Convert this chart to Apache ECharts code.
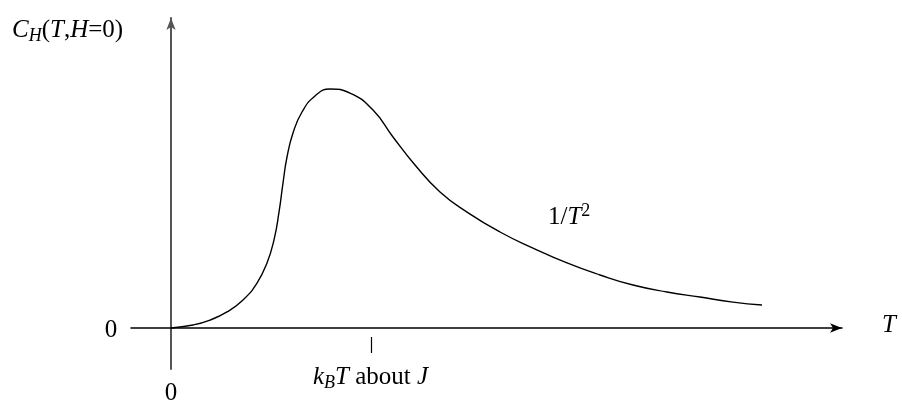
<!doctype html>
<html>
<head>
    <meta http-equiv="Content-Type" content="text/html; charset=utf-8">
    <title>specific heat</title>
    <script src="https://cdn.jsdelivr.net/npm/echarts@6/dist/echarts.min.js"></script>
    <style>
        html, body { margin: 0; padding: 0; background: #fff; }
        #main { width: 902px; height: 400px; }
    </style>
</head>
<body>
<div id="main"></div>
<script type="text/javascript">

    // temperature (units of J/k_B) and specific heat
    var temps = [0, 0.11, 0.195, 0.28, 0.36, 0.43, 0.48, 0.515, 0.54, 0.56, 0.58, 0.61, 0.655, 0.72, 0.795, 0.895, 1.01, 1.11, 1.22, 1.345, 1.48, 1.645, 1.81, 1.98, 2.145, 2.31, 2.48, 2.645, 2.81, 2.955];
    var heat  = [0, 0.0125, 0.033, 0.067, 0.1167, 0.1875, 0.271, 0.367, 0.483, 0.604, 0.7125, 0.8125, 0.9, 0.967, 0.996, 0.979, 0.908, 0.796, 0.679, 0.567, 0.483, 0.4, 0.333, 0.271, 0.221, 0.179, 0.15, 0.129, 0.108, 0.096];
    // the little mark under the axis at k_B T ~ J
    var markT = 1;
    var markSpan = [-0.0375, -0.104];

    var serif = 'Liberation Serif';
    var rich = {
        n:   { fontFamily: serif, fontSize: 25, color: '#000' },
        i:   { fontFamily: serif, fontSize: 25, fontStyle: 'italic', color: '#000' },
        sub: { fontFamily: serif, fontSize: 18, fontStyle: 'italic', color: '#000', padding: [12, 0, 0, 0] },
        sup: { fontFamily: serif, fontSize: 18, color: '#000', padding: [0, 0, 12, 0] }
    };

    function label(x, y, txt, align) {
        return {
            type: 'text', x: x, y: y,
            style: { text: txt, rich: rich, align: align || 'left', verticalAlign: 'middle' }
        };
    }

    var curve = [];
    for (var k = 0; k < temps.length; k++) {
        curve.push([temps[k], heat[k]]);
    }

    var myChart = echarts.init(document.getElementById('main'));
    var option = {
        animation: false,
        backgroundColor: '#fff',
        grid: { left: 131, right: 60, top: 18, bottom: 31 },
        xAxis: {
            type: 'value',
            min: -0.2,
            max: 3.355,
            axisLine: {
                onZero: true,
                symbol: ['none', 'arrow'],
                symbolSize: [7, 12],
                lineStyle: { color: '#000', width: 1.5 }
            },
            axisTick: { show: false },
            axisLabel: { show: false },
            splitLine: { show: false }
        },
        yAxis: {
            type: 'value',
            min: -0.1708,
            max: 1.2917,
            axisLine: {
                onZero: true,
                symbol: ['none', 'arrow'],
                symbolSize: [7, 12],
                lineStyle: { color: '#555', width: 2 }
            },
            axisTick: { show: false },
            axisLabel: { show: false },
            splitLine: { show: false }
        },
        series: [{
            type: 'line',
            data: curve,
            smooth: 0.5,
            showSymbol: false,
            lineStyle: { color: '#000', width: 1.4 },
            markLine: {
                silent: true,
                symbol: ['none', 'none'],
                label: { show: false },
                lineStyle: { color: '#000', width: 1.2, type: 'solid' },
                data: [[{ coord: [markT, markSpan[0]] }, { coord: [markT, markSpan[1]] }]]
            }
        }],
        graphic: [
            label(12, 30, '{i|C}{sub|H}{n|(}{i|T}{n|,}{i|H}{n|=0)}'),
            label(111, 330, '{n|0}', 'center'),
            label(171, 393, '{n|0}', 'center'),
            label(889, 325, '{i|T}', 'center'),
            label(548, 217, '{n|1/}{i|T}{sup|2}'),
            label(313, 377, '{i|k}{sub|B}{i|T}{n| about }{i|J}')
        ]
    };
    myChart.setOption(option);

</script>
</body>
</html>
